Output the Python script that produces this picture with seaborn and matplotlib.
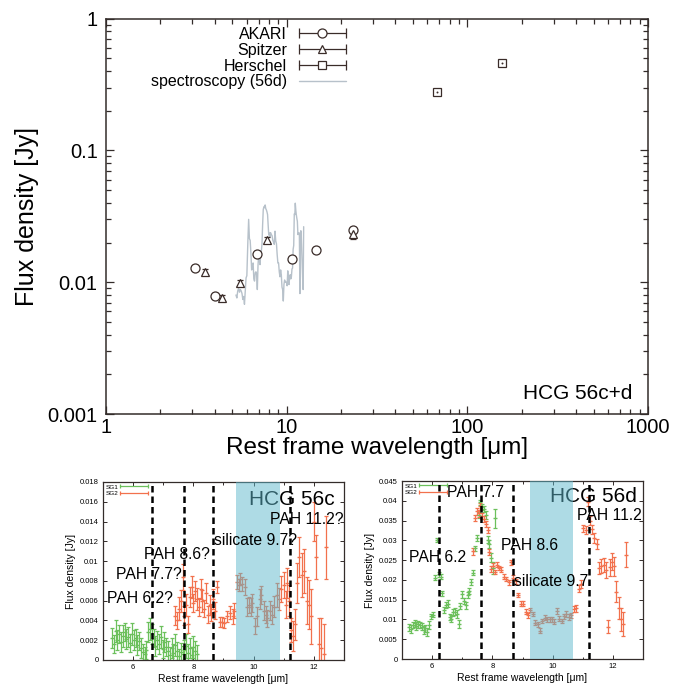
import numpy as np
import pandas as pd
import matplotlib
matplotlib.use("Agg")
import matplotlib.pyplot as plt
import seaborn as sns
from matplotlib.lines import Line2D
from matplotlib.legend_handler import HandlerBase
from matplotlib.ticker import FixedLocator, FixedFormatter, LogLocator, NullFormatter, MultipleLocator

# ---------------- photometry (rest frame) ----------------
akari_lam = [3.12, 3.99, 6.82, 10.72, 14.56, 23.4]
akari_flux = [0.0129, 0.0079, 0.0165, 0.0150, 0.0175, 0.0251]
akari_err = [0.0006, 0.0004, 0.0008, 0.0008, 0.0009, 0.0012]

spitzer_lam = [3.51, 4.39, 5.55, 7.79, 23.4]
spitzer_flux = [0.0119, 0.0076, 0.0099, 0.0211, 0.0232]
spitzer_err = [0.0006, 0.0004, 0.0005, 0.0010, 0.0020]

herschel_lam = [68.3, 156.0]
herschel_flux = [0.280, 0.464]
herschel_err = [0.014, 0.023]

# ---------------- AKARI slit spectra, flux in mJy ----------------
# HCG 56c
c_sg1_lam = [5.30, 5.36, 5.42, 5.48, 5.54, 5.60, 5.66, 5.72, 5.78, 5.84,
             5.90, 5.96, 6.02, 6.08, 6.14, 6.20, 6.26, 6.32, 6.38, 6.44,
             6.50, 6.56, 6.62, 6.68, 6.74, 6.80, 6.86, 6.92, 6.98, 7.04,
             7.10, 7.16, 7.22, 7.28, 7.34, 7.40, 7.46, 7.52, 7.58, 7.64,
             7.70, 7.76, 7.82, 7.88, 7.94, 8.00, 8.06, 8.12]
c_sg1_mjy = [2.2, 1.6, 2.9, 2.0, 2.6, 1.8, 2.4, 2.8, 2.1, 2.3,
             1.7, 2.6, 2.0, 2.2, 1.5, 1.9, 1.2, 0.8, 0.6, 1.0,
             2.8, 3.1, 2.6, 2.2, 1.4, 2.0, 1.6, 2.3, 1.1, 1.8,
             1.3, 0.9, 0.5, 1.2, 0.7, 1.5, 0.9, 0.4, 0.8, 0.6,
             1.0, 1.4, 0.7, 1.2, 0.5, 1.3, 0.9, 0.6]
c_sg1_err = [1.0, 0.9, 1.1, 1.0, 0.9, 1.0, 1.1, 0.9, 1.0, 1.0,
             0.9, 1.1, 1.0, 0.9, 1.0, 0.9, 1.0, 0.8, 0.7, 0.9,
             1.0, 1.1, 1.0, 0.9, 1.0, 0.9, 1.0, 1.1, 0.9, 1.0,
             0.9, 1.0, 0.8, 1.0, 0.9, 1.1, 0.9, 0.7, 0.9, 0.8,
             1.0, 1.2, 0.9, 1.0, 0.8, 1.1, 1.0, 0.9]

c_sg2_lam = [7.40, 7.46, 7.52, 7.58, 7.64, 7.70, 7.76, 7.82, 7.88, 7.94,
             8.00, 8.06, 8.12, 8.18, 8.24, 8.30, 8.36, 8.42, 8.48, 8.54,
             8.60, 8.66, 8.72, 8.80, 8.90, 8.96, 9.02, 9.10, 9.20, 9.30,
             9.36, 9.44, 9.50, 9.56, 9.62, 9.70, 9.78, 9.84, 9.90, 9.96,
             10.04, 10.12, 10.20, 10.26, 10.34, 10.40, 10.46, 10.54, 10.60, 10.68,
             10.76, 10.84, 10.92, 11.00, 11.06, 11.12, 11.18, 11.24, 11.30, 11.36,
             11.44, 11.52, 11.60, 11.68, 11.76, 11.84, 11.92, 12.00, 12.08, 12.16,
             12.24, 12.32, 12.40]
c_sg2_mjy = [4.5, 4.0, 5.2, 6.0, 8.4, 4.5, 5.6, 3.6, 6.4, 7.4,
             5.8, 7.0, 6.2, 5.4, 7.2, 6.0, 5.2, 6.8, 4.6, 5.6,
             4.8, 6.2, 5.0, 7.4, 3.8, 3.8, 3.7, 4.4, 4.8, 4.4,
             5.0, 7.9, 7.6, 8.2, 7.7, 7.4, 5.4, 5.6, 5.4, 5.8,
             3.4, 4.4, 6.2, 6.6, 5.0, 4.6, 4.2, 5.0, 4.6, 5.4,
             6.6, 6.2, 7.2, 7.6, 5.6, 7.8, 6.0, 3.0, 2.4, 3.6,
             7.8, 10.4, 8.6, 9.0, 6.0, 5.6, 4.4, 14.0, 10.4, 1.6,
             1.2, 0.6, 11.4]
c_sg2_err = [1.0, 0.9, 1.2, 1.1, 1.3, 1.0, 1.1, 0.9, 1.0, 1.1,
             0.9, 1.0, 1.1, 0.9, 1.0, 1.1, 0.9, 1.0, 0.9, 1.0,
             0.9, 1.0, 0.9, 0.6, 0.5, 0.5, 0.5, 0.6, 0.7, 0.8,
             0.8, 0.7, 0.6, 0.6, 0.7, 0.8, 0.9, 0.8, 0.9, 0.9,
             0.8, 1.0, 1.0, 0.9, 1.0, 0.9, 0.9, 1.0, 1.0, 1.1,
             1.2, 1.1, 1.3, 1.3, 1.4, 1.5, 1.6, 1.2, 1.5, 1.6,
             2.0, 2.0, 2.2, 2.2, 2.4, 2.5, 2.8, 2.0, 2.2, 2.6,
             3.0, 3.0, 3.2]

# HCG 56d
d_sg1_lam = [5.24, 5.30, 5.36, 5.42, 5.48, 5.54, 5.60, 5.66, 5.72, 5.78,
             5.84, 5.90, 5.96, 6.02, 6.10, 6.16, 6.22, 6.28, 6.34, 6.40,
             6.46, 6.52, 6.58, 6.64, 6.70, 6.76, 6.82, 6.88, 6.94, 7.00,
             7.06, 7.12, 7.18, 7.24, 7.30, 7.36, 7.42, 7.48, 7.54, 7.60,
             7.66, 7.72, 7.78, 7.84, 7.90, 7.96, 8.02, 8.10]
d_sg1_mjy = [8.0, 7.6, 8.6, 9.0, 8.4, 8.8, 8.6, 8.2, 7.4, 7.8,
             6.8, 8.6, 10.8, 11.2, 20.6, 30.0, 21.4, 20.8, 16.6, 12.4,
             13.6, 14.0, 10.6, 10.2, 11.8, 12.0, 11.4, 8.8, 13.4, 16.4,
             14.6, 13.6, 16.2, 17.2, 19.4, 21.8, 28.0, 30.6, 36.4, 39.6,
             38.4, 38.0, 36.4, 30.2, 29.0, 25.6, 23.0, 35.6]
d_sg1_err = [0.9, 1.0, 0.8, 0.9, 1.0, 0.9, 0.8, 0.9, 1.0, 0.9,
             1.0, 0.9, 0.7, 0.7, 0.6, 0.5, 0.6, 0.6, 0.6, 0.7,
             0.7, 0.8, 0.8, 0.8, 0.9, 0.9, 1.0, 1.0, 0.8, 0.9,
             0.8, 0.9, 0.8, 0.7, 0.7, 0.6, 0.6, 0.7, 0.7, 0.7,
             0.8, 0.8, 0.9, 1.0, 1.0, 1.2, 1.4, 2.4]

d_sg2_lam = [7.36, 7.42, 7.48, 7.54, 7.60, 7.66, 7.72, 7.78, 7.84, 7.90,
             7.96, 8.02, 8.08, 8.14, 8.22, 8.30, 8.38, 8.46, 8.54, 8.62,
             8.70, 8.78, 8.86, 8.94, 9.02, 9.10, 9.18, 9.26, 9.34, 9.42,
             9.50, 9.58, 9.66, 9.74, 9.82, 9.90, 9.98, 10.06, 10.14, 10.22,
             10.30, 10.38, 10.46, 10.54, 10.62, 10.70, 10.78, 10.86, 10.94, 11.02,
             11.10, 11.16, 11.24, 11.30, 11.38, 11.46, 11.54, 11.62, 11.70, 11.76,
             11.84, 11.92, 11.98, 12.04, 12.12, 12.20, 12.28, 12.34, 12.42]
d_sg2_mjy = [27.2, 35.6, 37.4, 36.8, 38.6, 36.2, 35.4, 34.2, 32.6, 27.0,
             22.8, 23.6, 22.0, 23.8, 23.0, 22.6, 20.8, 20.2, 19.4, 24.4,
             20.6, 19.6, 16.2, 14.0, 14.0, 12.0, 11.0, 12.4, 11.4, 9.2,
             8.8, 7.2, 9.6, 10.4, 10.0, 10.0, 10.0, 9.4, 12.2, 10.2,
             9.6, 10.8, 11.4, 10.6, 11.0, 12.6, 12.8, 17.8, 19.0, 33.0,
             32.6, 39.8, 35.0, 32.8, 30.6, 29.0, 23.0, 23.6, 23.8, 22.6,
             8.2, 23.2, 24.6, 23.4, 17.0, 13.0, 10.0, 8.8, 26.4]
d_sg2_err = [0.8, 0.8, 0.9, 0.8, 0.9, 0.8, 0.8, 0.8, 0.8, 0.7,
             0.7, 0.7, 0.6, 0.6, 0.6, 0.6, 0.6, 0.6, 0.6, 0.7,
             0.6, 0.6, 0.6, 0.6, 0.6, 0.6, 0.6, 0.6, 0.6, 0.6,
             0.6, 0.6, 0.6, 0.6, 0.6, 0.6, 0.6, 0.6, 0.7, 0.6,
             0.6, 0.7, 0.7, 0.7, 0.7, 0.8, 0.8, 0.9, 1.0, 1.0,
             1.1, 1.2, 1.2, 1.2, 1.3, 1.3, 1.6, 1.8, 1.8, 2.0,
             1.6, 2.2, 2.2, 2.4, 2.6, 2.8, 2.8, 3.0, 3.2]

# feature markers
c_lines = [6.64, 7.68, 8.64, 11.20]
c_band = (9.42, 10.86)
d_lines = [6.24, 7.61, 8.70, 11.22]
d_band = (9.25, 10.67)

c_labels = [("PAH 6.2?", 5.12, 6.2), ("PAH 7.7?", 5.42, 8.6), ("PAH 8.6?", 6.37, 10.7),
            ("silicate 9.7?", 8.69, 12.1), ("PAH 11.2?", 10.55, 14.2)]
d_labels = [("PAH 6.2", 5.22, 25.7), ("PAH 7.7", 6.49, 42.0), ("PAH 8.6", 8.29, 28.8),
            ("silicate 9.7", 8.72, 19.5), ("PAH 11.2", 10.80, 36.2)]

# ---------------- style ----------------
sns.set_theme(style="ticks")
plt.rcParams["font.family"] = ["Liberation Sans", "DejaVu Sans"]
plt.rcParams["axes.edgecolor"] = "#332c2a"
plt.rcParams["xtick.color"] = "#332c2a"
plt.rcParams["ytick.color"] = "#332c2a"
plt.rcParams["xtick.labelcolor"] = "black"
plt.rcParams["ytick.labelcolor"] = "black"
plt.rcParams["text.color"] = "black"
plt.rcParams["axes.labelcolor"] = "black"

INK = "#3a2c29"
SPEC = "#b7c1ca"
GREEN = "#6cc05c"
RED = "#f2714d"
BAND = "#5fb8cc"

W, H = 681, 684
fig = plt.figure(figsize=(W / 100, H / 100), dpi=100)


def frac(left, top, right, bottom):
    return [left / W, 1 - bottom / H, (right - left) / W, (bottom - top) / H]


class BarSample(HandlerBase):
    """Legend sample drawn as a horizontal bar with end caps and an optional point."""

    def __init__(self, caps=True, capsize=6.0, **kw):
        super().__init__(**kw)
        self.caps = caps
        self.capsize = capsize

    def create_artists(self, legend, orig_handle, xdescent, ydescent, width, height, fontsize, trans):
        y = height / 2.0 - ydescent
        x0, x1 = -xdescent, -xdescent + width
        c = orig_handle.get_color()
        lw = orig_handle.get_linewidth()
        arts = [Line2D([x0, x1], [y, y], color=c, lw=lw, transform=trans)]
        if self.caps:
            arts.append(Line2D([x0, x1], [y, y], ls="none", marker="|", ms=self.capsize,
                               mec=c, mew=lw, transform=trans))
        m = orig_handle.get_marker()
        if m not in (None, "None", "none", ""):
            arts.append(Line2D([(x0 + x1) / 2], [y], ls="none", marker=m,
                               ms=orig_handle.get_markersize(),
                               mfc=orig_handle.get_markerfacecolor(),
                               mec=orig_handle.get_markeredgecolor(),
                               mew=orig_handle.get_markeredgewidth(), transform=trans))
        return arts


# ---------------- main SED panel ----------------
ax = fig.add_axes(frac(106, 18.7, 648, 414))
ax.set_xscale("log")
ax.set_yscale("log")

spec = pd.DataFrame({
    "lam": [l for l in d_sg1_lam if l < 7.36] + d_sg2_lam,
    "flux": [f * 1e-3 for l, f in zip(d_sg1_lam, d_sg1_mjy) if l < 7.36] + [f * 1e-3 for f in d_sg2_mjy],
})
sns.lineplot(data=spec, x="lam", y="flux", sort=False, estimator=None, color=SPEC, lw=1.0, ax=ax, zorder=2)

mk = dict(ls="none", mfc="white", mec=INK, mew=0.9, ecolor=INK, elinewidth=0.8, capsize=2, zorder=4)
ax.errorbar(akari_lam, akari_flux, yerr=akari_err, marker="o", ms=6.5, **mk)
ax.errorbar(spitzer_lam, spitzer_flux, yerr=spitzer_err, marker="^", ms=5.8, **mk)
ax.errorbar(herschel_lam, herschel_flux, yerr=herschel_err, marker="s", ms=5.5, **mk)
sns.scatterplot(x=herschel_lam, y=herschel_flux, color=INK, s=2, linewidth=0, ax=ax, zorder=5)

ax.set_xlim(1, 1000)
ax.set_ylim(0.001, 1)
ax.xaxis.set_major_locator(FixedLocator([1, 10, 100, 1000]))
ax.xaxis.set_major_formatter(FixedFormatter(["1", "10", "100", "1000"]))
ax.yaxis.set_major_locator(FixedLocator([0.001, 0.01, 0.1, 1]))
ax.yaxis.set_major_formatter(FixedFormatter(["0.001", "0.01", "0.1", "1"]))
for a in (ax.xaxis, ax.yaxis):
    a.set_minor_locator(LogLocator(base=10, subs=np.arange(2, 10), numticks=20))
    a.set_minor_formatter(NullFormatter())
ax.tick_params(which="both", direction="in", top=True, right=True, labelsize=14.5, width=0.9)
ax.tick_params(which="major", length=6)
ax.tick_params(axis="y", which="major", pad=6)
ax.tick_params(axis="x", which="major", pad=3)
ax.tick_params(which="minor", length=3.5)
for s in ax.spines.values():
    s.set_linewidth(1.1)
ax.set_xlabel("Rest frame wavelength [\u03bcm]", fontsize=17.5, labelpad=0)
ax.set_ylabel("Flux density [Jy]", fontsize=18, labelpad=6)
ax.text(0.972, 0.053, "HCG 56c+d", transform=ax.transAxes, ha="right", va="center", fontsize=15)

h_ak = Line2D([], [], color=INK, lw=0.9, marker="o", ms=6.5, mfc="white", mec=INK, mew=0.9)
h_sp = Line2D([], [], color=INK, lw=0.9, marker="^", ms=5.8, mfc="white", mec=INK, mew=0.9)
h_he = Line2D([], [], color=INK, lw=0.9, marker="s", ms=5.5, mfc="white", mec=INK, mew=0.9)
h_spec = Line2D([], [], color=SPEC, lw=1.0)
ax.legend([h_ak, h_sp, h_he, h_spec], ["AKARI", "Spitzer", "Herschel", "spectroscopy (56d)"],
          handler_map={h_ak: BarSample(capsize=7), h_sp: BarSample(capsize=7),
                       h_he: BarSample(capsize=7), h_spec: BarSample(caps=False)},
          markerfirst=False, frameon=False, fontsize=11.5, handlelength=2.9, handletextpad=0.75,
          labelspacing=0.05, borderpad=0, borderaxespad=0,
          loc="upper right", bbox_to_anchor=(345.5 / W, 1 - 27 / H), bbox_transform=fig.transFigure)


# ---------------- spectral panels ----------------
def spectrum_panel(rect, sg1, sg2, ymax, ystep, lines, band, labels, name, name_pos):
    a = fig.add_axes(rect)
    for (lam, mjy, err), col in ((sg1, GREEN), (sg2, RED)):
        a.errorbar(lam, np.array(mjy) * 1e-3, yerr=np.array(err) * 1e-3, fmt="_", ms=2.5,
                   color=col, ecolor=col, elinewidth=0.9, capsize=1.4, capthick=0.9, zorder=2)
    a.text(name_pos[0], name_pos[1] * 1e-3, name, fontsize=15, ha="left", va="center", zorder=3)
    a.axvspan(band[0], band[1], color=BAND, alpha=0.5, lw=0, zorder=4)
    for x in lines:
        a.axvline(x, color="black", lw=1.8, ls=(0, (2.6, 1.6)), zorder=6)
    for txt, x, y in labels:
        a.text(x, y * 1e-3, txt, fontsize=11.3, ha="left", va="center", zorder=5)
    a.set_xlim(5, 13)
    a.set_ylim(0, ymax)
    a.xaxis.set_major_locator(MultipleLocator(2))
    a.xaxis.set_minor_locator(MultipleLocator(1))
    a.yaxis.set_major_locator(MultipleLocator(ystep))
    a.tick_params(which="both", direction="in", top=True, right=True, labelsize=5.5, width=0.7, pad=3)
    a.tick_params(which="major", length=3)
    a.tick_params(which="minor", length=1.8)
    a.yaxis.set_major_formatter(plt.FuncFormatter(lambda v, p: "0" if v == 0 else f"{v:g}"))
    for s in a.spines.values():
        s.set_linewidth(0.9)
    a.set_xlabel("Rest frame wavelength [\u03bcm]", fontsize=7.5, labelpad=2)
    a.set_ylabel("Flux density [Jy]", fontsize=7.5, labelpad=3)
    p1 = Line2D([], [], color=GREEN, lw=0.9)
    p2 = Line2D([], [], color=RED, lw=0.9)
    a.legend([p1, p2], ["SG1", "SG2"], handler_map={p1: BarSample(capsize=2.5), p2: BarSample(capsize=2.5)},
             markerfirst=False, frameon=False, fontsize=4.6, handlelength=4.3, handletextpad=0.3,
             labelspacing=0.15, borderpad=0.15, borderaxespad=0.2, loc="upper left")
    return a


spectrum_panel(frac(103, 482, 344, 660), (c_sg1_lam, c_sg1_mjy, c_sg1_err), (c_sg2_lam, c_sg2_mjy, c_sg2_err),
               0.018, 0.002, c_lines, c_band, c_labels, "HCG 56c", (9.84, 16.2))
spectrum_panel(frac(402, 481, 643, 659), (d_sg1_lam, d_sg1_mjy, d_sg1_err), (d_sg2_lam, d_sg2_mjy, d_sg2_err),
               0.045, 0.005, d_lines, d_band, d_labels, "HCG 56d", (9.91, 41.2))

fig.savefig("out.png", dpi=100, facecolor="white")
